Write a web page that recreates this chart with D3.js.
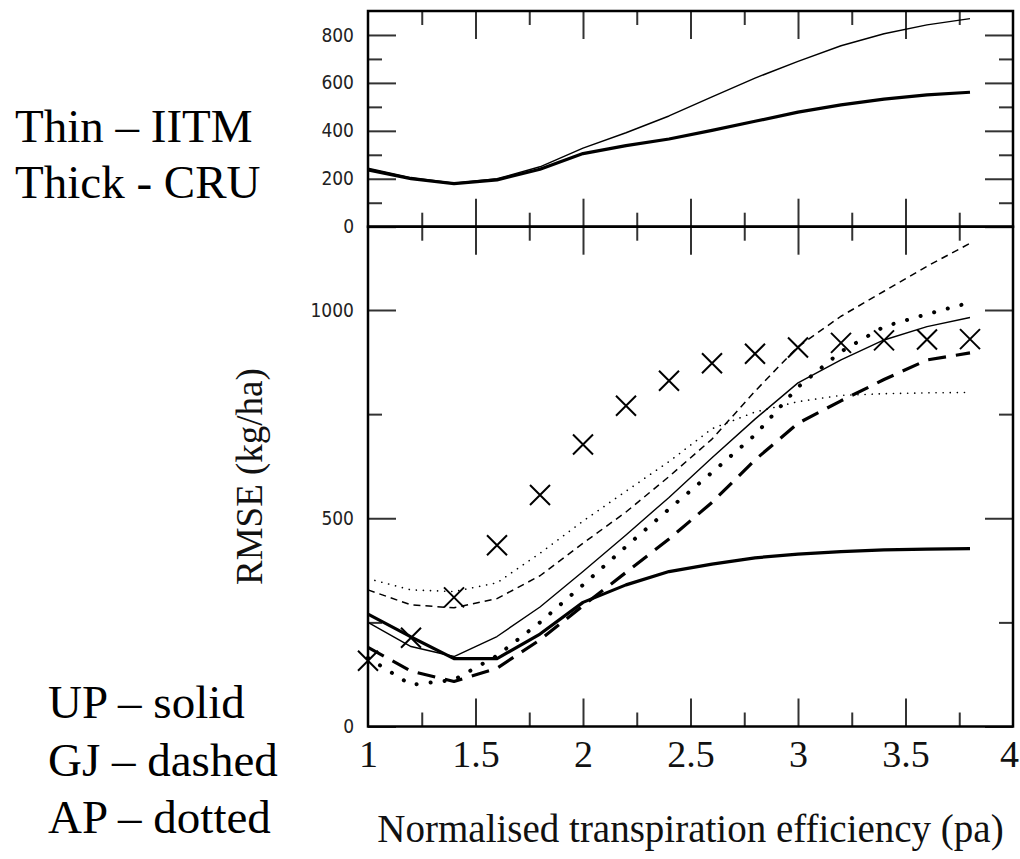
<!DOCTYPE html>
<html>
<head>
<meta charset="utf-8">
<script src="https://cdn.jsdelivr.net/npm/d3@7"></script>
<style>
  body { margin: 0; background: #fff; }
  svg { display: block; }
</style>
</head>
<body>
<div class="chart"></div>
<script>
// Data (pa = normalised transpiration efficiency)
const paValues = [1.0, 1.2, 1.4, 1.6, 1.8, 2.0, 2.2, 2.4, 2.6, 2.8, 3.0, 3.2, 3.4, 3.6, 3.8];

// Top panel: thin = IITM, thick = CRU
const topIITM = [244, 205, 182, 200, 250, 328, 392, 462, 542, 620, 690, 755, 805, 842, 868];
const topCRU  = [237, 200, 180, 195, 240, 305, 338, 366, 402, 440, 478, 508, 532, 550, 561];

// Bottom panel, RMSE (kg/ha)
const upIITM = [250, 192, 168, 216, 287, 372, 460, 550, 645, 738, 825, 880, 928, 960, 982];
const upCRU  = [270, 215, 163, 163, 222, 298, 340, 372, 390, 405, 414, 420, 424, 426, 427];
const gjIITM = [328, 292, 285, 307, 362, 440, 515, 600, 690, 805, 912, 985, 1045, 1105, 1160];
const gjCRU  = [190, 133, 108, 140, 208, 290, 370, 450, 538, 640, 728, 782, 833, 880, 897];
const apIITM = [355, 328, 324, 345, 416, 493, 565, 636, 715, 755, 780, 795, 799, 801, 802];
const apCRU  = [165, 100, 112, 170, 250, 340, 432, 522, 610, 700, 815, 900, 960, 990, 1018];
const crosses = [158, 213, 310, 435, 556, 677, 770, 830, 872, 895, 910, 921, 927, 929, 930];

// Tick values
const xMajorTicks = [1, 1.5, 2, 2.5, 3, 3.5, 4];
const xMinorTicks = [1.25, 1.75, 2.25, 2.75, 3.25, 3.75];
const topMajorTicks = [0, 200, 400, 600, 800];
const topMinorTicks = [100, 300, 500, 700];
const botMajorTicks = [0, 500, 1000];
const botMinorTicks = [250, 750];

const width = 1020;
const height = 859;
const left = 368, right = 1013;
const topY0 = 11, midY = 226.7, botY = 726.5;

const serif = "'Liberation Serif', 'Times New Roman', serif";

const svg = d3.select(".chart")
  .append("svg")
  .attr("width", width)
  .attr("height", height);

// Scales
const x = d3.scaleLinear().domain([1, 4]).range([left, right]);
const yTop = d3.scaleLinear().domain([0, 900]).range([midY, topY0]);
const yBot = d3.scaleLinear().domain([0, 1200]).range([botY, midY]);

const majorLen = 28, minorLen = 14;

// helper to add an axis of ticks only
function ticks(axis, tx, ty, showLabels) {
  const g = svg.append("g")
    .attr("transform", `translate(${tx},${ty})`)
    .call(axis);
  g.select(".domain").remove();
  g.selectAll(".tick line").attr("stroke", "#333").attr("stroke-width", 2);
  if (!showLabels) g.selectAll(".tick text").remove();
  return g;
}

// Y ticks, top panel
const topLabels = ticks(d3.axisLeft(yTop).tickValues(topMajorTicks).tickFormat(d3.format("d"))
  .tickSizeInner(-majorLen).tickSizeOuter(0).tickPadding(14), left, 0, true);
ticks(d3.axisLeft(yTop).tickValues(topMinorTicks).tickSizeInner(-minorLen).tickSizeOuter(0), left, 0, false);
ticks(d3.axisRight(yTop).tickValues(topMajorTicks).tickSizeInner(-majorLen).tickSizeOuter(0), right, 0, false);
ticks(d3.axisRight(yTop).tickValues(topMinorTicks).tickSizeInner(-minorLen).tickSizeOuter(0), right, 0, false);

// Y ticks, bottom panel
const botLabels = ticks(d3.axisLeft(yBot).tickValues(botMajorTicks).tickFormat(d3.format("d"))
  .tickSizeInner(-majorLen).tickSizeOuter(0).tickPadding(14), left, 0, true);
ticks(d3.axisLeft(yBot).tickValues(botMinorTicks).tickSizeInner(-minorLen).tickSizeOuter(0), left, 0, false);
ticks(d3.axisRight(yBot).tickValues(botMajorTicks).tickSizeInner(-majorLen).tickSizeOuter(0), right, 0, false);
ticks(d3.axisRight(yBot).tickValues(botMinorTicks).tickSizeInner(-minorLen).tickSizeOuter(0), right, 0, false);

[topLabels, botLabels].forEach(g => {
  g.selectAll(".tick text")
    .attr("font-family", "'DejaVu Sans Condensed', 'DejaVu Sans', sans-serif")
    .attr("font-size", 19)
    .attr("fill", "#222");
});

// X ticks on every horizontal border
const xTickRows = [
  { y: topY0, make: d3.axisTop },
  { y: midY, make: d3.axisBottom },
  { y: midY, make: d3.axisTop },
  { y: botY, make: d3.axisBottom }
];
xTickRows.forEach(r => {
  ticks(r.make(x).tickValues(xMajorTicks.slice(1, -1)).tickSizeInner(-majorLen).tickSizeOuter(0), 0, r.y, false);
  ticks(r.make(x).tickValues(xMinorTicks).tickSizeInner(-minorLen).tickSizeOuter(0), 0, r.y, false);
});

// X tick labels
const xLabels = svg.append("g")
  .attr("transform", `translate(0,${botY})`)
  .call(d3.axisBottom(x).tickValues(xMajorTicks).tickSize(0).tickPadding(14).tickFormat(d3.format("")));
xLabels.select(".domain").remove();
xLabels.selectAll(".tick text")
  .attr("font-family", serif)
  .attr("font-size", 38)
  .attr("fill", "#111")
  .attr("dx", d => d === 4 ? -4 : 0);

// Panel frames
svg.append("rect")
  .attr("x", left).attr("y", topY0)
  .attr("width", right - left).attr("height", midY - topY0)
  .attr("fill", "none").attr("stroke", "#000").attr("stroke-width", 2.5);
svg.append("rect")
  .attr("x", left).attr("y", midY)
  .attr("width", right - left).attr("height", botY - midY)
  .attr("fill", "none").attr("stroke", "#000").attr("stroke-width", 2.5);

// Lines
function drawLine(values, yScale, width, dash) {
  const line = d3.line()
    .x((d, i) => x(paValues[i]))
    .y(d => yScale(d));
  svg.append("path")
    .datum(values)
    .attr("d", line)
    .attr("fill", "none")
    .attr("stroke", "#000")
    .attr("stroke-width", width)
    .attr("stroke-linecap", dash && dash.startsWith("0.1") ? "round" : "butt")
    .attr("stroke-linejoin", "round")
    .attr("stroke-dasharray", dash || null);
}

// top panel
drawLine(topIITM, yTop, 1.4);
drawLine(topCRU, yTop, 3.2);

// bottom panel
drawLine(apIITM, yBot, 1.6, "0.1,7");
drawLine(gjIITM, yBot, 1.5, "7,5");
drawLine(upIITM, yBot, 1.4);
drawLine(apCRU, yBot, 4, "0.1,14");
drawLine(gjCRU, yBot, 3.2, "18,10");
drawLine(upCRU, yBot, 3.2);

// Observed RMSE crosses
const r = 10;
svg.append("g")
  .selectAll("path")
  .data(crosses)
  .join("path")
  .attr("d", (d, i) => {
    const cx = x(paValues[i]), cy = yBot(d);
    return `M${cx - r},${cy - r}L${cx + r},${cy + r}M${cx - r},${cy + r}L${cx + r},${cy - r}`;
  })
  .attr("stroke", "#000")
  .attr("stroke-width", 2)
  .attr("fill", "none");

// Axis titles
svg.append("text")
  .attr("x", (left + right) / 2)
  .attr("y", 842)
  .attr("text-anchor", "middle")
  .attr("font-family", serif)
  .attr("font-size", 39)
  .attr("fill", "#111")
  .text("Normalised transpiration efficiency (pa)");

svg.append("text")
  .attr("transform", `translate(262,${(midY + botY) / 2}) rotate(-90)`)
  .attr("text-anchor", "middle")
  .attr("font-family", serif)
  .attr("font-size", 37)
  .attr("fill", "#111")
  .text("RMSE (kg/ha)");

// Side notes
const notes = [
  { t: "Thin – IITM", x: 15, y: 142 },
  { t: "Thick - CRU", x: 15, y: 198 },
  { t: "UP – solid", x: 48, y: 718 },
  { t: "GJ – dashed", x: 48, y: 776 },
  { t: "AP – dotted", x: 48, y: 833 }
];
svg.append("g")
  .selectAll("text")
  .data(notes)
  .join("text")
  .attr("x", d => d.x)
  .attr("y", d => d.y)
  .attr("font-family", serif)
  .attr("font-size", 47)
  .attr("fill", "#000")
  .text(d => d.t);
</script>
</body>
</html>
